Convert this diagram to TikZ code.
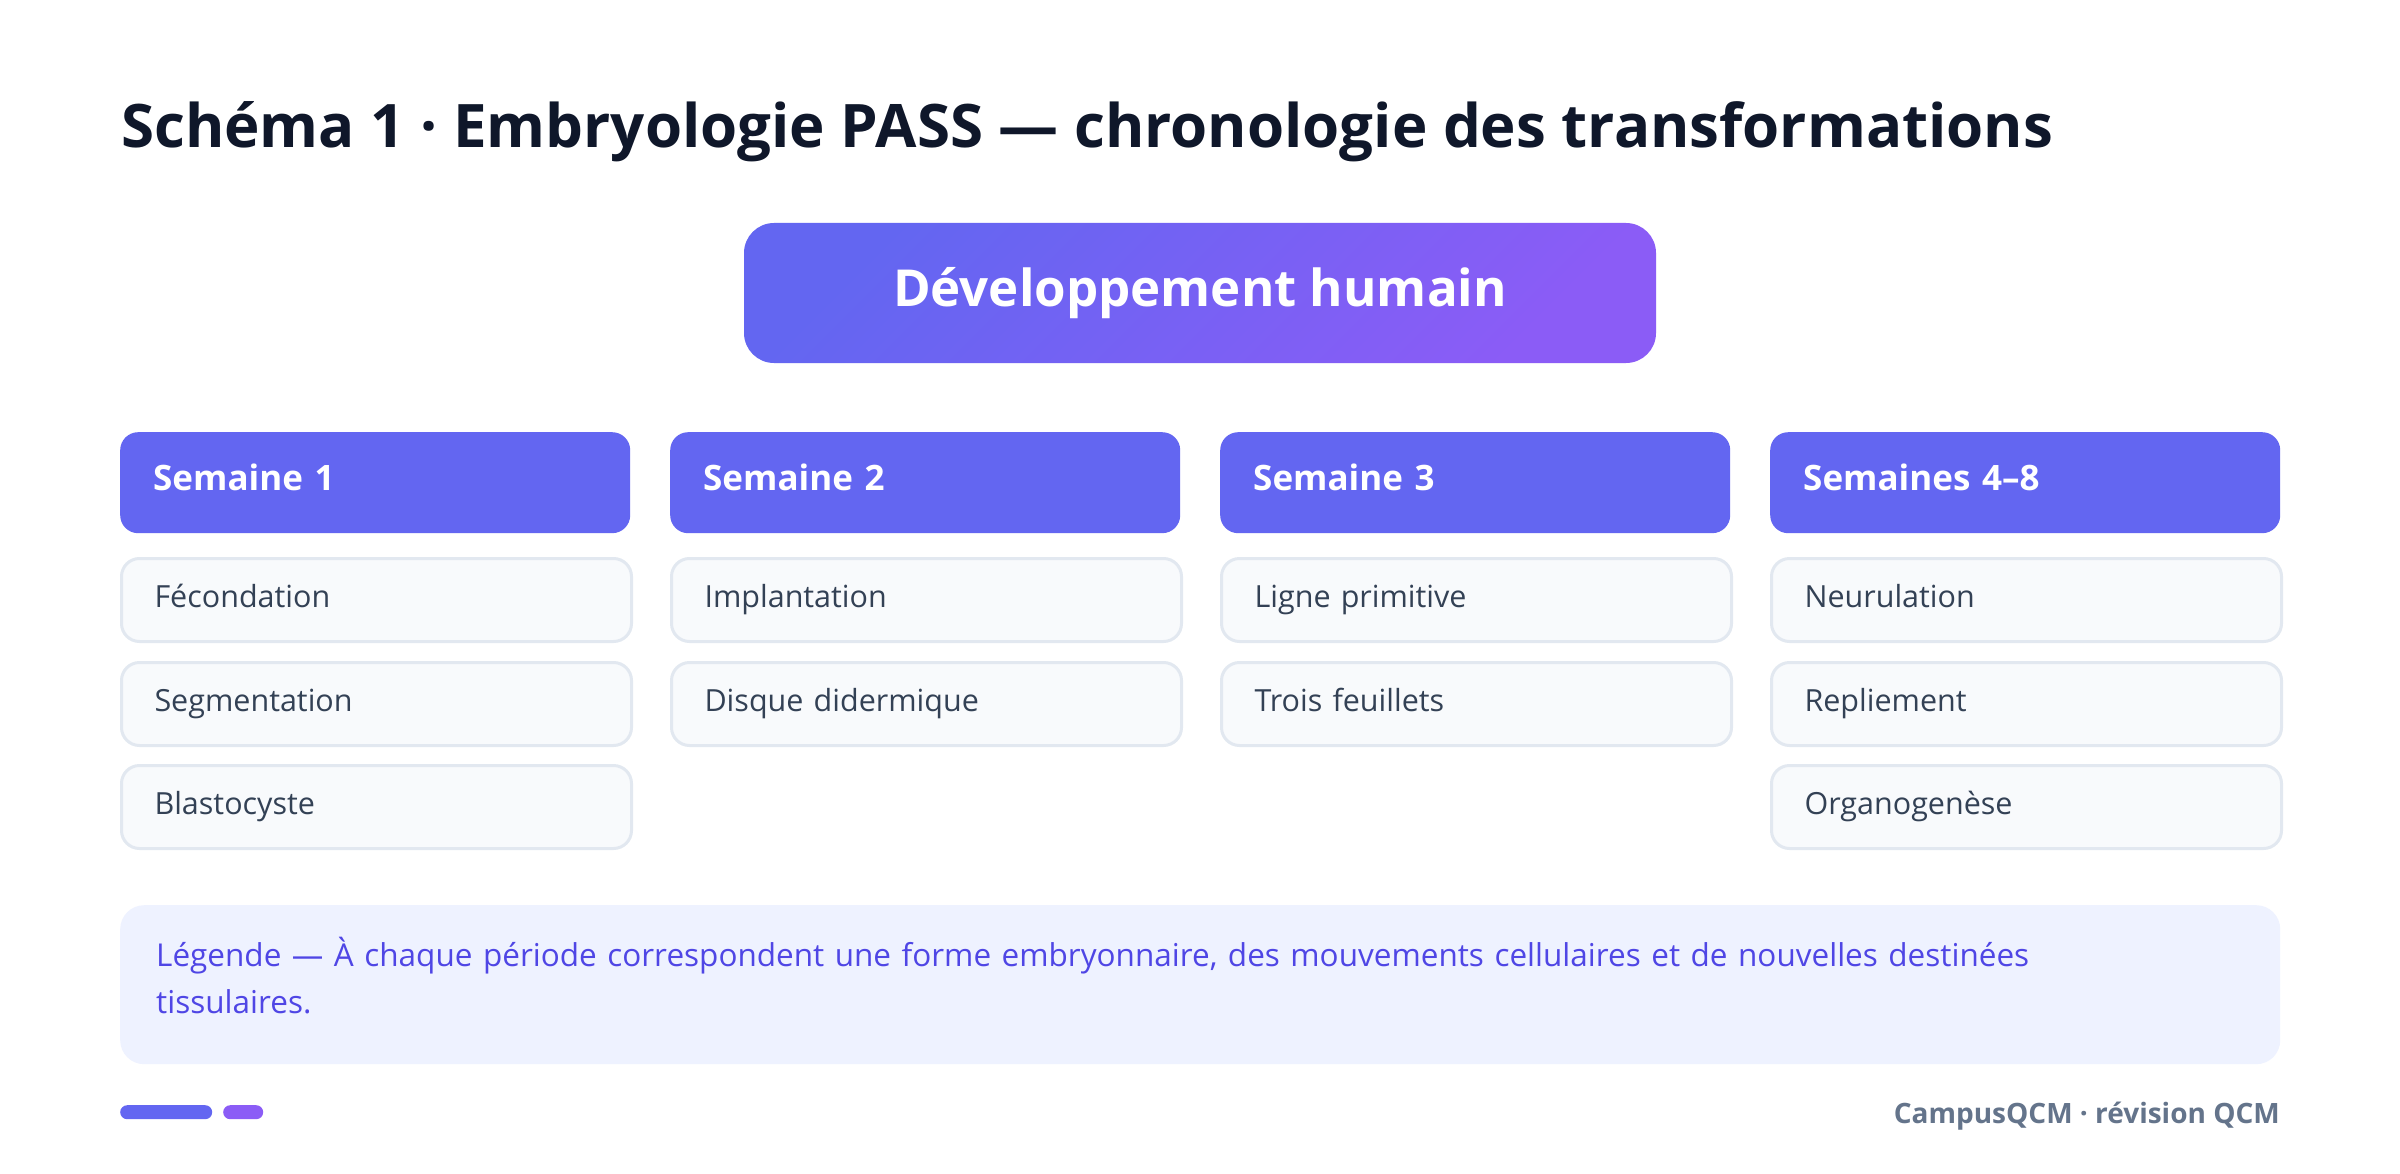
\documentclass[tikz,border=0pt]{standalone}
\usepackage{fontspec}
\setmainfont{Open Sans}
\definecolor{titlec}{HTML}{0F172A}
\definecolor{indigo}{HTML}{6366F1}
\definecolor{violet}{HTML}{8B5CF6}
\definecolor{itemfill}{HTML}{F8FAFC}
\definecolor{itemborder}{HTML}{E2E8F0}
\definecolor{itemtext}{HTML}{334155}
\definecolor{legfill}{HTML}{EEF2FF}
\definecolor{legtext}{HTML}{4F46E5}
\definecolor{footc}{HTML}{64748B}
\tikzset{
  mainbox/.style={rounded corners=30pt, top color=indigo, bottom color=violet, shading angle=45,
    text=white, minimum width=912pt, minimum height=140pt, inner sep=0pt,
    font=\fontsize{51}{60}\selectfont\bfseries},
  hdr/.style={rounded corners=18pt, fill=indigo, text=white, anchor=north west,
    minimum height=101pt, text width=444pt, inner xsep=33pt, inner ysep=0pt, align=left,
    text height=25pt, text depth=10pt,
    font=\fontsize{35}{42}\selectfont\bfseries},
  itembox/.style={rounded corners=18pt, fill=itemfill, draw=itemborder, line width=3pt,
    text=itemtext, anchor=north west,
    minimum height=83pt, text width=444pt, inner xsep=33pt, inner ysep=0pt, align=left,
    text height=22pt, text depth=7pt,
    font=\fontsize{30.5}{36}\selectfont},
  legbox/.style={rounded corners=24pt, fill=legfill, anchor=north west,
    minimum width=2160pt, minimum height=159pt, inner sep=0pt},
  legtxt/.style={anchor=base west, inner sep=0pt, text=legtext, text width=2100pt, align=left,
    font=\fontsize{31.5}{47}\selectfont},
  barbox/.style={rounded corners=7pt, minimum height=14pt, inner sep=0pt, anchor=north west}
}
\begin{document}
\begin{tikzpicture}[x=1pt,y=-1pt]
\useasboundingbox[fill=white] (0,0) rectangle (2400,1174);
\node[anchor=base west, inner sep=0pt, text=titlec, font=\fontsize{60}{66}\selectfont\bfseries] (title) at (121,148) {Schéma 1 · Embryologie PASS — chronologie des transformations};
\node[mainbox] (main) at (1200,293) {Développement humain};

\node[hdr] (h1) at (120,432) {Semaine 1};
\node[hdr] (h2) at (670,432) {Semaine 2};
\node[hdr] (h3) at (1220,432) {Semaine 3};
\node[hdr] (h4) at (1770,432) {Semaines 4–8};

\node[itembox] (a1) at (120,557) {Fécondation};
\node[itembox] (a2) at (120,661) {Segmentation};
\node[itembox] (a3) at (120,764) {Blastocyste};
\node[itembox] (b1) at (670,557) {Implantation};
\node[itembox] (b2) at (670,661) {Disque didermique};
\node[itembox] (c1) at (1220,557) {Ligne primitive};
\node[itembox] (c2) at (1220,661) {Trois feuillets};
\node[itembox] (d1) at (1770,557) {Neurulation};
\node[itembox] (d2) at (1770,661) {Repliement};
\node[itembox] (d3) at (1770,764) {Organogenèse};

\node[legbox] (leg) at (120,905) {};
\node[legtxt] (legt) at (156,966) {Légende — À chaque période correspondent une forme embryonnaire, des mouvements cellulaires et de nouvelles destinées\\tissulaires.};

\node[barbox, fill=indigo, minimum width=92pt] (bar1) at (120,1105) {};
\node[barbox, fill=violet, minimum width=40pt] (bar2) at (223,1105) {};
\node[anchor=base east, inner sep=0pt, text=footc, font=\fontsize{28}{32}\selectfont\bfseries] (foot) at (2280,1123) {CampusQCM · révision QCM};
\end{tikzpicture}
\end{document}
